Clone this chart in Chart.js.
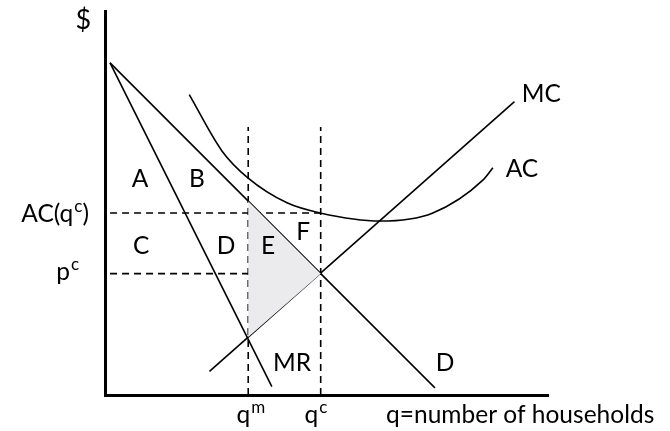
<!DOCTYPE html>
<html lang="en">
<head>
    <title>Monopoly vs competitive output</title>
    <meta charset="utf-8">
    <script src="https://cdn.jsdelivr.net/npm/chart.js@4.4.0/dist/chart.umd.js"></script>
    <style>
        body { margin: 0; background: #fff; }
        #wrap { width: 670px; height: 431px; }
    </style>
</head>

<body>
    <div id="wrap"><canvas id="econChart"></canvas></div>

    <script>
        // Curve points (q, $)
        const demand = [[1.5, 98.5], [97.9, 2.1]];
        const marginalRevenue = [[1.5, 98.5], [49.5, 2.5]];
        const marginalCost = [[31, 7], [121.5, 87]];
        const averageCost = [[25.0, 89.1], [34.7, 72.4], [42.4, 64.4], [54.0, 57.0], [63.8, 54.0],
                             [81.6, 51.6], [97.3, 54.0], [112.2, 63.8], [115.1, 67.4]];

        // Key quantities and prices
        const qm = 42.5, qc = 64, pc = 36, acqc = 54, dashTop = 79.5;
        const deadweight = [[qm, 57.5], [qc, pc], [qm, 17.2], [qm, 57.5]];

        // Text labels: [text, superscript, q, $, align, tail]
        const labels = [
            ['$', '', -6.4, 108.6, 'center'],
            ['A', '', 10.4, 61.7, 'center'],
            ['B', '', 27.3, 61.7, 'center'],
            ['C', '', 10.7, 41.8, 'center'],
            ['D', '', 35.9, 41.8, 'center'],
            ['E', '', 48.4, 41.8, 'center'],
            ['F', '', 58.8, 46.0, 'center'],
            ['MR', '', 55.5, 7.1, 'center'],
            ['D', '', 100.9, 7.1, 'center'],
            ['MC', '', 129.5, 86.9, 'center'],
            ['AC', '', 123.7, 64.7, 'center'],
            ['AC(q', 'c', -4.75, 51.3, 'right', ')'],
            ['p', 'c', -7.7, 34.1, 'right'],
            ['q', 'm', 43.3, -8.3, 'center'],
            ['q', 'c', 62.6, -8.3, 'center'],
            ['q=number of households', '', 83.4, -8.3, 'left']
        ];

        const pts = arr => arr.map(p => ({ x: p[0], y: p[1] }));

        const solid = (data, extra) => Object.assign({
            data: pts(data), borderColor: '#000', borderWidth: 1.6,
            pointRadius: 0, fill: false, tension: 0
        }, extra || {});

        const dashed = data => solid(data, { borderWidth: 1.6, borderDash: [7, 5] });

        const mainFont = '24.5px Lato', supFont = '17px Lato';

        const labelPlugin = {
            id: 'labels',
            afterDraw(chart) {
                const { ctx, scales: { x, y } } = chart;
                ctx.save();
                ctx.fillStyle = '#000';
                ctx.textBaseline = 'alphabetic';
                ctx.textAlign = 'left';
                labels.forEach(l => {
                    const [text, sup, q, p, align, tail] = l;
                    const px = x.getPixelForValue(q), py = y.getPixelForValue(p);
                    const font = text === '$' ? '27px Lato' : mainFont;
                    ctx.font = font;
                    const w1 = ctx.measureText(text).width;
                    const w3 = tail ? ctx.measureText(tail).width : 0;
                    ctx.font = supFont;
                    const w2 = sup ? ctx.measureText(sup).width + 1 : 0;
                    const total = w1 + w2 + w3;
                    let left = px;
                    if (align === 'center') left = px - total / 2;
                    if (align === 'right') left = px - total;
                    ctx.font = font;
                    ctx.fillText(text, left, py);
                    if (sup) {
                        ctx.font = supFont;
                        ctx.fillText(sup, left + w1 + 1, py - 10);
                    }
                    if (tail) {
                        ctx.font = font;
                        ctx.fillText(tail, left + w1 + w2, py);
                    }
                });
                ctx.restore();
            }
        };

        const hidden = {
            ticks: { display: false },
            grid: { display: false, drawTicks: false },
            border: { display: true, width: 3, color: '#000' }
        };

        new Chart(document.getElementById('econChart'), {
            type: 'line',
            data: {
                datasets: [
                    solid(deadweight, { fill: 'shape', backgroundColor: 'rgb(235,235,238)', borderWidth: 0 }),
                    dashed([[1.5, acqc], [qc, acqc]]),
                    dashed([[1.5, pc], [qc, pc]]),
                    dashed([[qm, 0], [qm, dashTop]]),
                    dashed([[qc, 0], [qc, dashTop]]),
                    solid(demand),
                    solid(marginalRevenue),
                    solid(marginalCost),
                    solid(averageCost, { cubicInterpolationMode: 'monotone' })
                ]
            },
            options: {
                responsive: true,
                maintainAspectRatio: false,
                animation: false,
                layout: { padding: { left: 105, right: 122, top: 11, bottom: 36 } },
                plugins: { legend: { display: false }, tooltip: { enabled: false } },
                scales: {
                    x: Object.assign({ type: 'linear', min: 0, max: 131.45 }, hidden),
                    y: Object.assign({ type: 'linear', min: 0, max: 113.9 }, hidden)
                }
            },
            plugins: [labelPlugin]
        });
    </script>
</body>
</html>
